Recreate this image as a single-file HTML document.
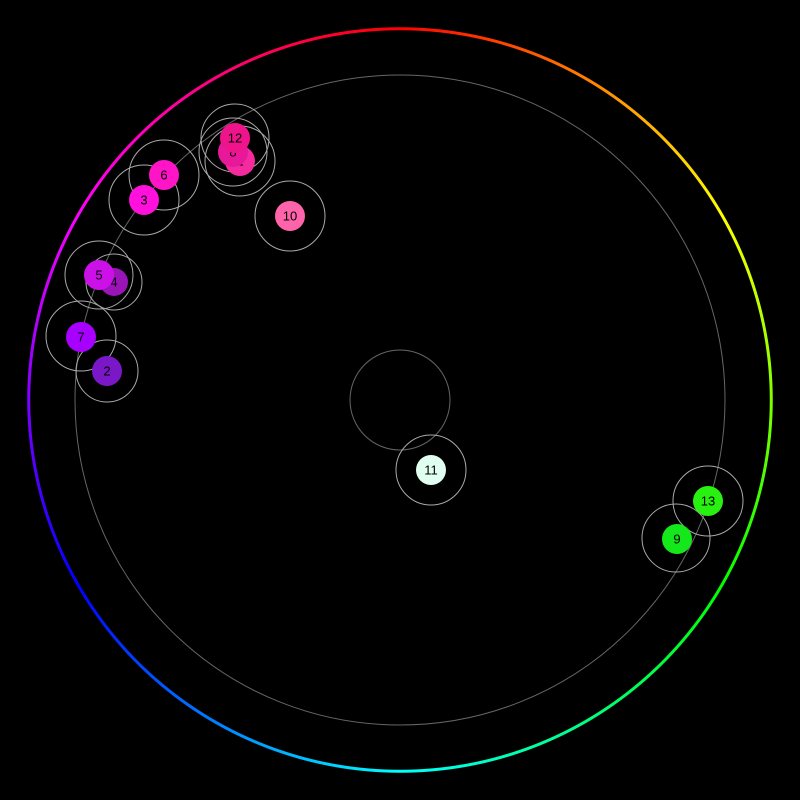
<!DOCTYPE html>
<html><head><meta charset="utf-8"><style>
html,body{margin:0;padding:0;background:#000;width:800px;height:800px;overflow:hidden}
.ring{position:absolute;left:20px;top:20px;width:760px;height:760px;border-radius:50%;
background:conic-gradient(from 0deg,#f00,#ff0 60deg,#0f0 120deg,#0ff 180deg,#00f 240deg,#f0f 300deg,#f00 360deg);
-webkit-mask:radial-gradient(circle closest-side,transparent 369.5px,#000 370px,#000 372.5px,transparent 373px);
mask:radial-gradient(circle closest-side,transparent 369.5px,#000 370px,#000 372.5px,transparent 373px);}
svg{position:absolute;left:0;top:0}
text{font-family:"Liberation Sans",sans-serif;font-size:13px;text-anchor:middle;dominant-baseline:central;fill:#000}
</style></head><body>
<div class="ring"></div>
<svg width="800" height="800">
<circle cx="400" cy="400" r="325" fill="none" stroke="#666" stroke-width="1"/>
<circle cx="400" cy="400" r="50" fill="none" stroke="#666" stroke-width="1"/>
<g fill="none" stroke="#aaa" stroke-width="1">
<circle cx="235" cy="138" r="34"/><circle cx="233" cy="152" r="34"/><circle cx="240" cy="161" r="35"/>
<circle cx="164" cy="175" r="35"/><circle cx="144" cy="200" r="35"/>
<circle cx="99" cy="275" r="34"/><circle cx="114" cy="282" r="28"/>
<circle cx="81" cy="336" r="35"/><circle cx="107" cy="371" r="31"/>
<circle cx="290" cy="216" r="35"/><circle cx="431" cy="470" r="35"/>
<circle cx="708" cy="501" r="35"/><circle cx="676" cy="538" r="34"/>
</g>
<circle cx="114" cy="282" r="14" fill="#9a14b8"/><text x="114" y="282">4</text>
<circle cx="99" cy="275" r="15" fill="#cc10e8"/><text x="99" y="275">5</text>
<circle cx="240" cy="161" r="15" fill="#f52a9e"/><text x="240" y="161">1</text>
<circle cx="233" cy="152" r="15" fill="#e8189a"/><text x="233" y="152">8</text>
<circle cx="235" cy="138" r="15" fill="#f0148c"/><text x="235" y="138">12</text>
<circle cx="164" cy="175" r="15" fill="#ff14c8"/><text x="164" y="175">6</text>
<circle cx="144" cy="200" r="15" fill="#ff10dc"/><text x="144" y="200">3</text>
<circle cx="81" cy="337" r="15" fill="#a800ff"/><text x="81" y="337">7</text>
<circle cx="107" cy="371" r="15" fill="#7a18c8"/><text x="107" y="371">2</text>
<circle cx="290" cy="216" r="15" fill="#ff64aa"/><text x="290" y="216">10</text>
<circle cx="431" cy="470" r="15" fill="#e0fff0"/><text x="431" y="470">11</text>
<circle cx="708" cy="501" r="15" fill="#28f010"/><text x="708" y="501">13</text>
<circle cx="677" cy="539" r="15" fill="#14e81a"/><text x="677" y="539">9</text>
</svg>
</body></html>
